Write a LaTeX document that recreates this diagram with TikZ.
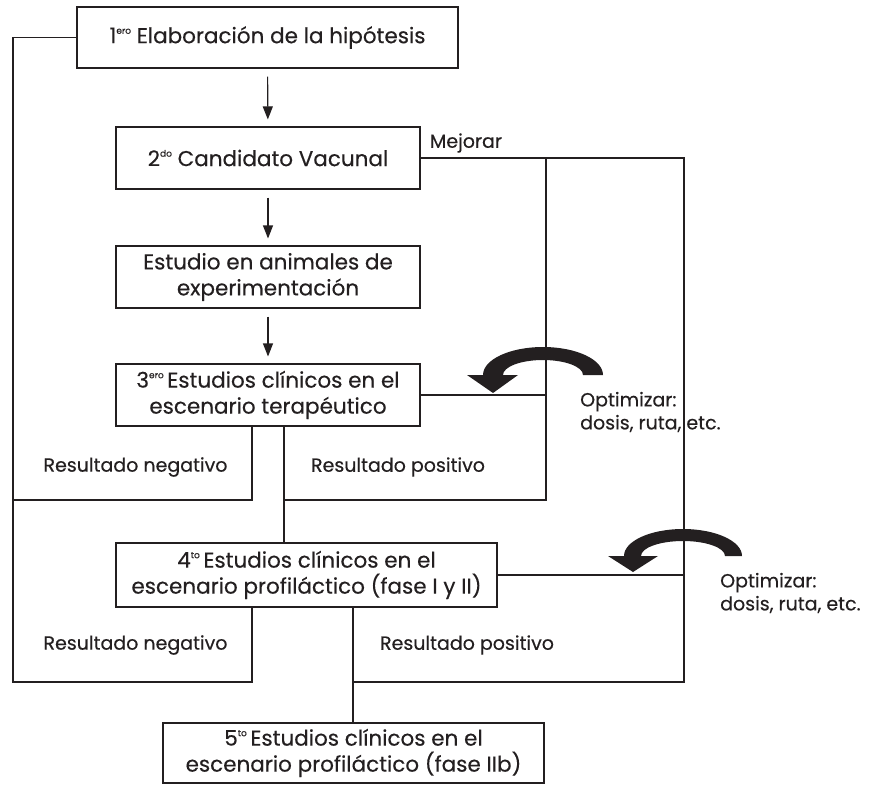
\documentclass[tikz,border=0pt]{standalone}
\usepackage{fontspec}
\setmainfont{Poppins}[FakeBold=0.35]
\usetikzlibrary{arrows.meta}
\definecolor{ink}{HTML}{231F20}
\newcommand{\ordsup}[1]{\raisebox{0.8ex}{\fontsize{9}{9}\selectfont #1}}
\tikzset{
  txt/.style={font=\fontsize{19}{23}\selectfont, text=ink, inner sep=0pt, align=center},
  box/.style={txt, font=\fontsize{21.5}{26}\selectfont, draw=ink, line width=1.1pt},
  link/.style={draw=ink, line width=1.1pt},
  arr/.style={link, -{Triangle[length=13pt,width=10pt]}, shorten <=8pt, shorten >=7pt},
  curvearrow/.style={fill=ink}
}
\begin{document}
\begin{tikzpicture}[x=1pt,y=-1pt]
\useasboundingbox (0,0) rectangle (880,784);

% boxes
\node[box, minimum width=381pt, minimum height=61pt] (n1) at (267.5,37.5) {1\ordsup{ero} Elaboración de la hipótesis};
\node[box, minimum width=304pt, minimum height=62pt] (n2) at (268,158) {2\ordsup{do} Candidato Vacunal};
\node[box, minimum width=304pt, minimum height=62pt] (n3) at (268,277) {Estudio en animales de\\experimentación};
\node[box, minimum width=304pt, minimum height=62pt] (n4) at (268,395) {3\ordsup{ero}\,Estudios clínicos en el\\escenario terapéutico};
\node[box, minimum width=381pt, minimum height=64pt] (n5) at (306.5,575) {4\ordsup{to}\,Estudios clínicos en el\\escenario profiláctico (fase I y II)};
\node[box, minimum width=381pt, minimum height=60pt] (n6) at (353.5,753) {5\ordsup{to}\,Estudios clínicos en el\\escenario profiláctico (fase IIb)};

% labels
\node[txt] (mej) at (466,143) {Mejorar};
\node[txt] (neg1t) at (135.5,467) {Resultado negativo};
\node[txt] (pos1t) at (398,467) {Resultado positivo};
\node[txt] (neg2t) at (135.5,645) {Resultado negativo};
\node[txt] (pos2t) at (467,645) {Resultado positivo};
\node[txt, anchor=west, align=left] (opt1) at (580,412) {Optimizar:\\dosis, ruta, etc.};
\node[txt, anchor=west, align=left] (opt2) at (720,593) {Optimizar:\\dosis, ruta, etc.};

% coordinates
\coordinate (tl) at (13,37.5);
\coordinate (bl) at (13,682);
\coordinate (neg1) at (252,500);
\coordinate (pos1) at (284,500);
\coordinate (in1) at (546,500);
\coordinate (outtop) at (684,158);
\coordinate (outbot) at (684,682);
\coordinate (neg2) at (252,682);
\coordinate (pos2) at (353,682);

% connectors
\draw[arr] (n1) -- (n2);
\draw[arr] (n2) -- (n3);
\draw[arr] (n3) -- (n4);
\draw[link] (n1.west) -- (tl) -- (bl) -- (neg2) -- (neg2 |- n5.south);
\draw[link] (n4.south -| neg1) -- (neg1) -- (neg1 -| tl);
\draw[link] (n4.south -| pos1) -- (n5.north -| pos1);
\draw[link] (pos1) -- (in1) -- (in1 |- n2.east);
\draw[link] (n2.east) -- (outtop) -- (outbot) -- (pos2);
\draw[link] (n5.south -| pos2) -- (n6.north -| pos2);
\draw[link] (n4.east) -- (n4.east -| in1);
\draw[link] (n5.east) -- (n5.east -| outtop);

% curved arrows
\fill[curvearrow] (603,375) arc[start angle=0, end angle=180, x radius=60pt, y radius=28pt]
  -- (467,375) -- (493,393) -- (518,375) -- (503,375)
  arc[start angle=180, end angle=0, x radius=40pt, y radius=15pt] -- cycle;
\fill[curvearrow] (742,556) arc[start angle=0, end angle=180, x radius=59pt, y radius=27pt]
  -- (608,556) -- (633,572) -- (658,556) -- (641,556)
  arc[start angle=180, end angle=0, x radius=42pt, y radius=15pt] -- cycle;
\end{tikzpicture}
\end{document}
